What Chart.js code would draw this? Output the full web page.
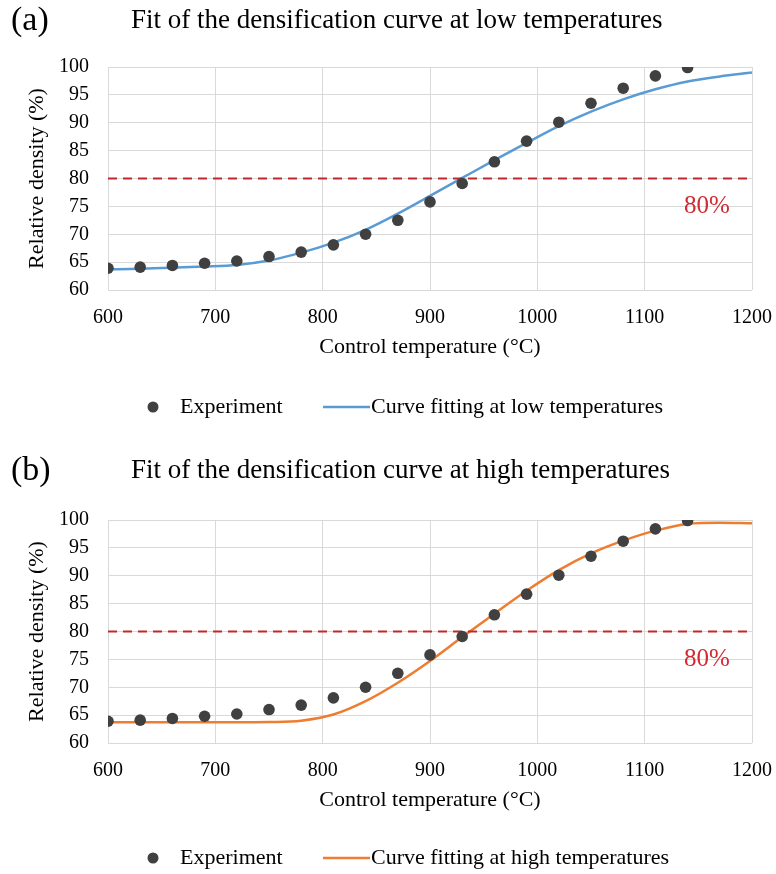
<!DOCTYPE html>
<html>
<head>
<meta charset="utf-8">
<script src="https://cdn.jsdelivr.net/npm/chart.js@4/dist/chart.umd.min.js"></script>
<style>
  html, body { margin: 0; padding: 0; background: #fff; }
  #wrap { position: relative; width: 776px; height: 874px; }
  canvas { position: absolute; left: 0; }
</style>
</head>
<body>
<div id="wrap">
  <canvas id="chartA" width="776" height="453" style="top:0"></canvas>
  <canvas id="chartB" width="776" height="421" style="top:453px"></canvas>
</div>
<script>
// ---- data ----
const expTemps = [600, 630, 660, 690, 720, 750, 780, 810, 840, 870, 900, 930, 960, 990, 1020, 1050, 1080, 1110, 1140];
const expDensity = [63.9, 64.1, 64.4, 64.8, 65.2, 66.0, 66.8, 68.1, 70.0, 72.5, 75.8, 79.1, 83.0, 86.7, 90.1, 93.5, 96.2, 98.4, 99.9];

const fitTemps = [600, 630, 660, 690, 720, 750, 780, 810, 840, 870, 900, 930, 960, 990, 1020, 1050, 1080, 1110, 1140, 1170, 1200];
const lowFitDensity = [63.7, 63.8, 64.0, 64.2, 64.5, 65.3, 66.7, 68.5, 70.8, 73.7, 76.9, 80.1, 83.3, 86.4, 89.4, 92.0, 94.2, 96.0, 97.4, 98.3, 99.0];
const highFitDensity = [63.7, 63.7, 63.7, 63.7, 63.7, 63.75, 64.0, 65.1, 67.5, 70.8, 74.7, 79.0, 83.2, 87.3, 91.0, 94.0, 96.3, 98.1, 99.3, 99.5, 99.4];

const refTemps = [600, 1200];
const refDensity = [80, 80];

const xTicks = [600, 700, 800, 900, 1000, 1100, 1200];
const yTicks = [60, 65, 70, 75, 80, 85, 90, 95, 100];

const FONT = '"Liberation Serif", "Times New Roman", serif';

function pts(xs, ys) { return xs.map((x, i) => ({ x: x, y: ys[i] })); }

const decoPlugin = {
  id: 'deco',
  afterDraw(chart, args, o) {
    const ctx = chart.ctx;
    const xs = chart.scales.x, ys = chart.scales.y;
    ctx.save();
    ctx.fillStyle = '#000';
    ctx.textBaseline = 'middle';
    // panel label
    ctx.font = '34px ' + FONT;
    ctx.textAlign = 'left';
    ctx.fillText(o.panel, 11, o.titleY);
    // title
    ctx.font = '27px ' + FONT;
    ctx.textAlign = 'left';
    ctx.fillText(o.title, 131, o.titleY);
    // 80% label
    ctx.fillStyle = '#D02B32';
    ctx.font = '25px ' + FONT;
    ctx.textAlign = 'center';
    ctx.fillText('80%', xs.getPixelForValue(1158), ys.getPixelForValue(75.0));
    // legend
    const ly = o.legendY;
    ctx.fillStyle = '#404040';
    ctx.beginPath();
    ctx.arc(153, ly, 5.5, 0, Math.PI * 2);
    ctx.fill();
    ctx.fillStyle = '#000';
    ctx.font = '22px ' + FONT;
    ctx.textAlign = 'left';
    ctx.fillText('Experiment', 180, ly);
    ctx.strokeStyle = o.color;
    ctx.lineWidth = 2.5;
    ctx.beginPath();
    ctx.moveTo(323, ly);
    ctx.lineTo(370, ly);
    ctx.stroke();
    ctx.fillText(o.legend, 371, ly);
    ctx.restore();
  }
};

function makeChart(id, fitValues, color, deco, padBottom) {
  return new Chart(document.getElementById(id), {
    type: 'scatter',
    data: {
      datasets: [
        {
          label: 'Experiment',
          data: pts(expTemps, expDensity),
          showLine: false,
          pointRadius: 5.8,
          pointHoverRadius: 5.8,
          pointBackgroundColor: '#404040',
          pointBorderColor: '#404040',
          pointBorderWidth: 0
        },
        {
          label: '80%',
          data: pts(refTemps, refDensity),
          showLine: true,
          borderColor: '#C0282D',
          borderWidth: 2,
          borderDash: [9, 6],
          pointRadius: 0
        },
        {
          label: deco.legend,
          data: pts(fitTemps, fitValues),
          showLine: true,
          borderColor: color,
          borderWidth: 2.5,
          cubicInterpolationMode: 'monotone',
          pointRadius: 0
        }
      ]
    },
    options: {
      responsive: false,
      animation: false,
      devicePixelRatio: 1,
      layout: { padding: { top: 67, right: 24, bottom: padBottom, left: 0 } },
      plugins: {
        legend: { display: false },
        tooltip: { enabled: false },
        title: { display: false },
        deco: deco
      },
      scales: {
        x: {
          type: 'linear',
          min: 600, max: 1200,
          afterBuildTicks(s) { s.ticks = xTicks.map(v => ({ value: v })); },
          afterFit(s) { s.height = 70; s.paddingLeft = 0; s.paddingRight = 0; },
          grid: { color: '#D9D9D9', lineWidth: 1, drawTicks: false },
          border: { display: false },
          ticks: { color: '#000', font: { family: FONT, size: 20 }, padding: 16, maxRotation: 0, autoSkip: false, callback: v => String(v) },
          title: { display: true, text: 'Control temperature (°C)', color: '#000', font: { family: FONT, size: 22 }, padding: { top: 0, bottom: 0 } }
        },
        y: {
          min: 60, max: 100,
          afterBuildTicks(s) { s.ticks = yTicks.map(v => ({ value: v })); },
          afterFit(s) { s.width = 108; s.paddingTop = 0; s.paddingBottom = 0; },
          grid: { color: '#D9D9D9', lineWidth: 1, drawTicks: false },
          border: { display: false },
          ticks: { color: '#000', font: { family: FONT, size: 20 }, padding: 19, autoSkip: false, callback: v => String(v) },
          title: { display: true, text: 'Relative density (%)', color: '#000', font: { family: FONT, size: 22 }, padding: { top: 24, bottom: 0 } }
        }
      }
    },
    plugins: [decoPlugin]
  });
}

makeChart('chartA', lowFitDensity, '#5B9BD5', {
  panel: '(a)', title: 'Fit of the densification curve at low temperatures',
  legend: 'Curve fitting at low temperatures', color: '#5B9BD5', titleY: 21, legendY: 407
}, 93);
makeChart('chartB', highFitDensity, '#ED7D31', {
  panel: '(b)', title: 'Fit of the densification curve at high temperatures',
  legend: 'Curve fitting at high temperatures', color: '#ED7D31', titleY: 18, legendY: 405
}, 61);
</script>
</body>
</html>
